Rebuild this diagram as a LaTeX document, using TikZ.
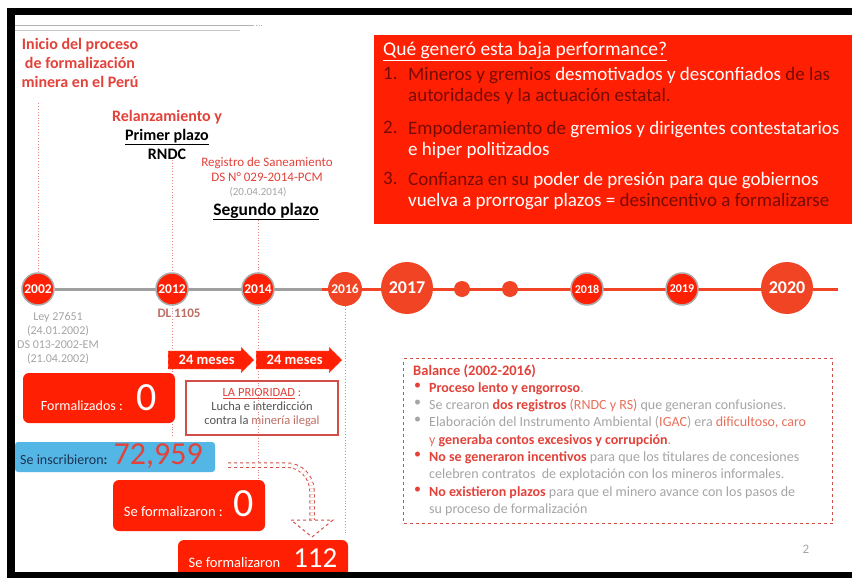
\documentclass[tikz,border=0pt]{standalone}
\usepackage{fontspec}
\setmainfont{Carlito}
\usetikzlibrary{shapes.arrows,backgrounds}
\definecolor{slidered}{RGB}{226,66,58}
\definecolor{lightred}{RGB}{232,112,92}
\definecolor{boxred}{RGB}{255,32,4}
\definecolor{lineorange}{RGB}{240,68,36}
\definecolor{darkred}{RGB}{120,10,4}
\definecolor{softgray}{RGB}{165,165,165}
\definecolor{inkgray}{RGB}{85,85,85}
\definecolor{skyblue}{RGB}{84,182,228}
\definecolor{navy}{RGB}{28,50,82}
\definecolor{dashred}{RGB}{210,78,72}
\definecolor{guidered}{RGB}{225,135,135}
\definecolor{mutedred}{RGB}{190,110,100}
\newcommand{\fsz}[2]{\fontsize{#1}{#2}\selectfont}

\begin{document}
\begin{tikzpicture}[x=1pt,y=-1pt,
  every node/.style={inner sep=0pt},
  yearring/.style={circle, fill=boxred, draw=gray!65, line width=1.5pt, minimum size=32pt, text=white, font=\fsz{13.5}{14}\bfseries},
  yearplain/.style={circle, fill=lineorange, minimum size=34pt, text=white, font=\fsz{13.5}{14}\bfseries},
  yearbig/.style={circle, fill=lineorange, minimum size=52pt, text=white, font=\fsz{18}{18}\bfseries},
  smalldot/.style={circle, fill=lineorange, minimum size=16pt},
  guide/.style={guidered, dotted, line width=0.9pt},
  redbox/.style={fill=boxred, rounded corners=6pt},
  meses/.style={single arrow, single arrow head extend=4pt, fill=boxred, draw=red!35!white, dashed, minimum height=86pt, inner xsep=5pt, inner ysep=4pt, text=white, font=\fsz{14.5}{14.5}\bfseries},
  bultext/.style={anchor=north west, align=left, text=softgray, font=\fsz{14}{17.3}},
]
\useasboundingbox (0,0) rectangle (852,578);

% header rules
\draw[gray!60, line width=0.8pt] (15,25) -- (253,25);
\draw[gray!60, line width=0.8pt, dotted] (253,25) -- (264,25);
\draw[gray!45, line width=0.8pt] (15,30) -- (240,30);

\node[anchor=north, align=center, text=slidered, font=\fsz{16}{19}\bfseries] (inicio) at (80,38)
  {Inicio del proceso\\de formalización\\minera en el Perú};
\node[anchor=north, align=center, font=\fsz{16}{19}\bfseries] (relanz) at (167,110)
  {\textcolor{slidered}{Relanzamiento y}\\\underline{Primer plazo}\\RNDC};
\node[anchor=north, align=center, text=slidered, font=\fsz{13}{15}] (registro) at (267,157)
  {Registro de Saneamiento\\DS N° 029-2014-PCM};
\node[anchor=base, text=softgray, font=\fsz{11}{11}] (fecha) at (258,195) {(20.04.2014)};
\node[anchor=base, font=\fsz{17.5}{17.5}\bfseries] (segundo) at (266,215) {\underline{Segundo plazo}};

% timeline
\node[yearring] (y2002) at (38,289) {2002};
\node[yearring] (y2012) at (172,289) {2012};
\node[yearring] (y2014) at (258,289) {2014};
\node[yearplain] (y2016) at (345,289) {2016};
\node[yearbig] (y2017) at (407,288) {2017};
\node[smalldot] (d1) at (462,289) {};
\node[smalldot] (d2) at (510,289) {};
\node[yearring, font=\fsz{12}{12}\bfseries] (y2018) at (587,289) {2018};
\node[yearring, font=\fsz{12}{12}\bfseries] (y2019) at (682,289) {2019};
\node[yearbig] (y2020) at (787,288) {2020};
\coordinate (split) at (322,289);
\coordinate (tlend) at (838,289);
\coordinate (g2002) at (38,103);
\coordinate (e2012) at (172,437);
\coordinate (e2014) at (258,483);
\coordinate (e2016) at (345,533);

\node[anchor=north, align=center, text=softgray, font=\fsz{12}{14}] (ley) at (58,312)
  {Ley 27651\\(24.01.2002)\\DS 013-2002-EM\\(21.04.2002)};
\node[anchor=base, text=mutedred, font=\fsz{13}{13}\bfseries] (dl) at (179,317) {DL 1105};

\node[meses, anchor=tail] (meses1) at (168,360) {24 meses};
\node[meses, anchor=tail] (meses2) at (256,360) {24 meses};

\node[redbox, minimum width=152pt, minimum height=50pt] (formalizados) at (99,398) {};
\node[anchor=base, text=white] (formtxt) at (99,410) {\fsz{14}{14}Formalizados :\hspace{14pt}\fsz{40}{40}0};

\node[draw=dashred, line width=1.6pt, minimum width=152pt, minimum height=54pt, align=center, text=inkgray, font=\fsz{12.5}{14}] (prioridad) at (262,408)
  {\textcolor{slidered}{\underline{LA PRIORIDAD} :}\\Lucha e interdicción\\contra la \textcolor{mutedred}{minería ilegal}};

\node[fill=skyblue, rounded corners=3pt, minimum width=200pt, minimum height=30pt] (inscritos) at (115,457) {};
\node[anchor=base west] (inscrtxt) at (20,464) {\fsz{14}{14}\textcolor{navy}{Se inscribieron\textbf{:}}\hspace{6pt}\fsz{32}{32}\textcolor{slidered}{72,959}};

\node[redbox, minimum width=152pt, minimum height=51pt] (formados) at (189,505.5) {};
\node[anchor=base, text=white] (formadostxt) at (189,516) {\fsz{14.5}{14.5}Se formalizaron :\hspace{11pt}\fsz{40}{40}0};

\node[redbox, minimum width=170pt, minimum height=50pt] (formados2) at (263,565) {};
\node[anchor=base, text=white] (formados2txt) at (263,567) {\fsz{14.5}{14.5}Se formalizaron\hspace{13pt}\fsz{29}{29}112};

\coordinate (headbase) at (312,520);
\draw[dashred, dashed, line width=1pt, double=white, double distance=3.5pt, rounded corners=26pt] ([shift={(13,8)}]inscritos.east) -| (headbase);
\draw[dashred, dashed, line width=1pt, fill=white] (headbase) ++(-21,0) -- ++(42,0) -- ++(-21,17) -- cycle;

% right panel
\node[fill=boxred, anchor=north west, minimum width=478pt, minimum height=189pt] (whybox) at (374,35) {};
\node[anchor=north west, text=white, font=\fsz{19.5}{21}] (whytitle) at (383,42) {\underline{Qué generó esta baja performance?}};
\node[anchor=north west, text=darkred, font=\fsz{19}{21}] (n1) at (383,67) {1.};
\node[anchor=north west, align=left, text=white, font=\fsz{19}{21}] (why1) at (408,67)
  {\textcolor{darkred}{Mineros y gremios} desmotivados y desconfiados \textcolor{darkred}{de las}\\\textcolor{darkred}{autoridades y la actuación estatal.}};
\node[anchor=north west, text=darkred, font=\fsz{19}{21}] (n2) at (383,121) {2.};
\node[anchor=north west, align=left, text=white, font=\fsz{19}{21}] (why2) at (408,121)
  {\textcolor{darkred}{Empoderamiento de} gremios y dirigentes contestatarios\\e hiper politizados};
\node[anchor=north west, text=darkred, font=\fsz{19}{21}] (n3) at (383,172) {3.};
\node[anchor=north west, align=left, text=white, font=\fsz{19}{21}] (why3) at (408,172)
  {\textcolor{darkred}{Confianza en su} poder de presión para que gobiernos\\vuelva a prorrogar plazos = \textcolor{darkred}{desincentivo a formalizarse}};

\node[draw=dashred, dashed, line width=1pt, anchor=north west, minimum width=429pt, minimum height=165pt] (balance) at (403,358) {};
\node[anchor=north west, text=slidered, font=\fsz{14.5}{17}\bfseries] (baltitle) at (413,365) {Balance (2002-2016)};
\foreach \by/\bc in {382.5/slidered,399.5/softgray,416.5/softgray,451.5/slidered,486.5/slidered}
  \node[anchor=north west, text=\bc, font=\fsz{14}{17.3}] (bul\by) at (414,\by) {\textbullet};
\node[bultext] (bal1) at (429,382.5) {\textcolor{slidered}{\textbf{Proceso lento y engorroso}}.};
\node[bultext] (bal2) at (429,399.5) {Se crearon \textcolor{slidered}{\textbf{dos registros}} \textcolor{lightred}{(RNDC y RS)} que generan confusiones.};
\node[bultext] (bal3) at (429,416.5) {Elaboración del Instrumento Ambiental (\textcolor{lightred}{IGAC}) era \textcolor{lightred}{dificultoso, caro}\\\textcolor{lightred}{y} \textcolor{slidered}{\textbf{generaba contos excesivos y corrupción}}.};
\node[bultext] (bal4) at (429,451.5) {\textcolor{slidered}{\textbf{No se generaron incentivos}} para que los titulares de concesiones\\celebren contratos\ \ de explotación con los mineros informales.};
\node[bultext] (bal5) at (429,486.5) {\textcolor{slidered}{\textbf{No existieron plazos}} para que el minero avance con los pasos de\\su proceso de formalización};

\node[anchor=base, text=softgray, font=\fsz{13}{13}] (pagenum) at (806,553) {2};

\begin{scope}[on background layer]
  \fill[white] (0,0) rectangle (852,578);
  \draw[gray!75, line width=3pt] (y2002) -- (split);
  \draw[lineorange, line width=3pt] (split) -- (tlend);
  \draw[guide] (g2002) -- (y2002.north);
  \draw[guide] (relanz.south -| y2012.center) -- (e2012);
  \draw[guide] (segundo.south -| y2014.center) -- (e2014);
  \draw[guide] (y2016.south) -- (e2016);
\end{scope}

% slide frame
\fill[black] (7,8) rectangle (852,15);
\fill[black] (7,8) rectangle (15,578);
\fill[black] (7,572) rectangle (852,578);
%\draw[red] (0,0) rectangle (852,578);
\end{tikzpicture}
\end{document}
